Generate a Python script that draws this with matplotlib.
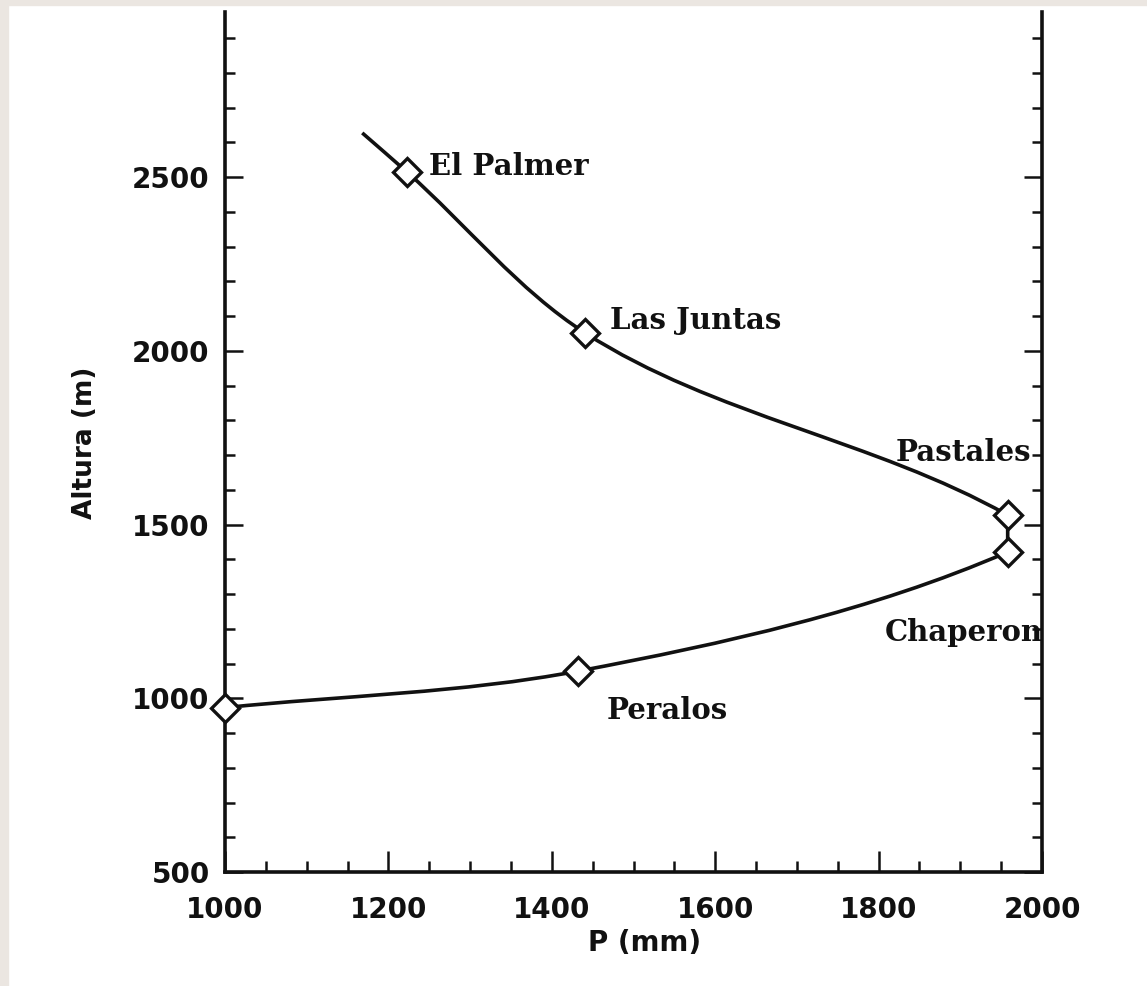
import numpy as np
import matplotlib.pyplot as plt
from matplotlib.path import Path
from matplotlib.patches import PathPatch, Rectangle
from matplotlib.ticker import MultipleLocator

# estaciones a lo largo de la curva (de arriba hacia abajo)
nombres = ['El Palmer', 'Las Juntas', 'Pastales', 'Chaperon', 'Peralos', '']
precip = [1223, 1441, 1958, 1958, 1432, 1000]   # P (mm)
altura = [2514, 2051, 1527, 1421, 1078, 973]    # m
# extremo superior de la curva ajustada (sin marcador)
curva_inicio_p = 1168
curva_inicio_h = 2627

# desplazamiento de cada rotulo respecto a su marcador (puntos)
rotulos = {
    'El Palmer': (16, 4, 'left'),
    'Las Juntas': (18, 9, 'left'),
    'Pastales': (17, 45, 'right'),
    'Chaperon': (25, -58, 'right'),
    'Peralos': (21, -28, 'left'),
}


def unit(v):
    return v / np.hypot(*v)


def tramo_bezier(p, d0, d1):
    # curva suave por los puntos p (pantalla), tangentes d0 y d1 en los extremos
    n = len(p)
    dirs = [d0]
    for i in range(1, n - 1):
        dirs.append(unit(unit(p[i] - p[i - 1]) + unit(p[i + 1] - p[i])))
    dirs.append(d1)
    verts, codes = [], []
    for i in range(n - 1):
        L = np.hypot(*(p[i + 1] - p[i]))
        verts += [p[i] + dirs[i] * L / 3, p[i + 1] - dirs[i + 1] * L / 3, p[i + 1]]
        codes += [Path.CURVE4] * 3
    return verts, codes


fig = plt.figure(figsize=(11.47, 9.86), dpi=100)
fig.patches.append(Rectangle((0, 1 - 5 / 986), 1, 5 / 986, transform=fig.transFigure,
                             color='#ebe6e1', zorder=0))
fig.patches.append(Rectangle((0, 0), 8 / 1147, 1, transform=fig.transFigure,
                             color='#ebe6e1', zorder=0))

ax = fig.add_axes([225 / 1147, 1 - 872 / 986, 817 / 1147, 860 / 986])
ax.set_xlim(1000, 2000)
ax.set_ylim(500, 2975)

# curva ajustada: rama superior, union Pastales-Chaperon y rama inferior
pts = ax.transData.transform(np.column_stack([[curva_inicio_p] + precip,
                                              [curva_inicio_h] + altura]))
sup = pts[:4]
inf = pts[4:]
baja = unit(pts[4] - pts[3])
v1, c1 = tramo_bezier(sup, unit(sup[1] - sup[0]),
                      unit(unit(sup[3] - sup[2]) + 0.12 * baja))
v2, c2 = tramo_bezier(inf, unit(unit(inf[1] - inf[0]) + 0.15 * baja),
                      unit(inf[2] - inf[1]))
verts = [sup[0]] + v1 + [inf[0]] + v2
codes = [Path.MOVETO] + c1 + [Path.LINETO] + c2
verts = ax.transData.inverted().transform(np.array(verts))
ax.add_patch(PathPatch(Path(verts, codes), fill=False, lw=2.6, color='#111111',
                       zorder=3, clip_on=False))

ax.plot(precip, altura, 'D', ms=14, mfc='white', mec='#111111', mew=2.4,
        zorder=4, clip_on=False)

for nom, p, h in zip(nombres, precip, altura):
    if nom in rotulos:
        dx, dy, ha = rotulos[nom]
        ax.annotate(nom, (p, h), xytext=(dx, dy), textcoords='offset points',
                    ha=ha, va='center', fontsize=21, fontweight='bold',
                    family='DejaVu Serif', color='#111111')

ax.xaxis.set_major_locator(MultipleLocator(200))
ax.xaxis.set_minor_locator(MultipleLocator(50))
ax.yaxis.set_major_locator(MultipleLocator(500))
ax.yaxis.set_minor_locator(MultipleLocator(100))
ax.tick_params(which='both', direction='in', top=False, right=True, width=1.8,
               color='#111111', labelcolor='#111111')
ax.tick_params(axis='x', which='major', length=15, pad=17)
ax.tick_params(axis='x', which='minor', length=8)
ax.tick_params(axis='y', which='major', length=13, pad=11)
ax.tick_params(axis='y', which='minor', length=7)
for lab in ax.get_xticklabels() + ax.get_yticklabels():
    lab.set_fontsize(20)
    lab.set_fontweight('bold')
    lab.set_family('DejaVu Sans')

ax.spines['top'].set_visible(False)
for s in ['left', 'right', 'bottom']:
    ax.spines[s].set_linewidth(2.6)
    ax.spines[s].set_color('#111111')

ax.set_xlabel('P (mm)', fontsize=20, fontweight='bold', color='#111111')
ax.xaxis.set_label_coords(0.514, -0.066)
ax.set_ylabel('Altura (m)', fontsize=19, fontweight='bold', color='#111111')
ax.yaxis.set_label_coords(-0.155, 0.499)

fig.savefig('out.png', dpi=100)
